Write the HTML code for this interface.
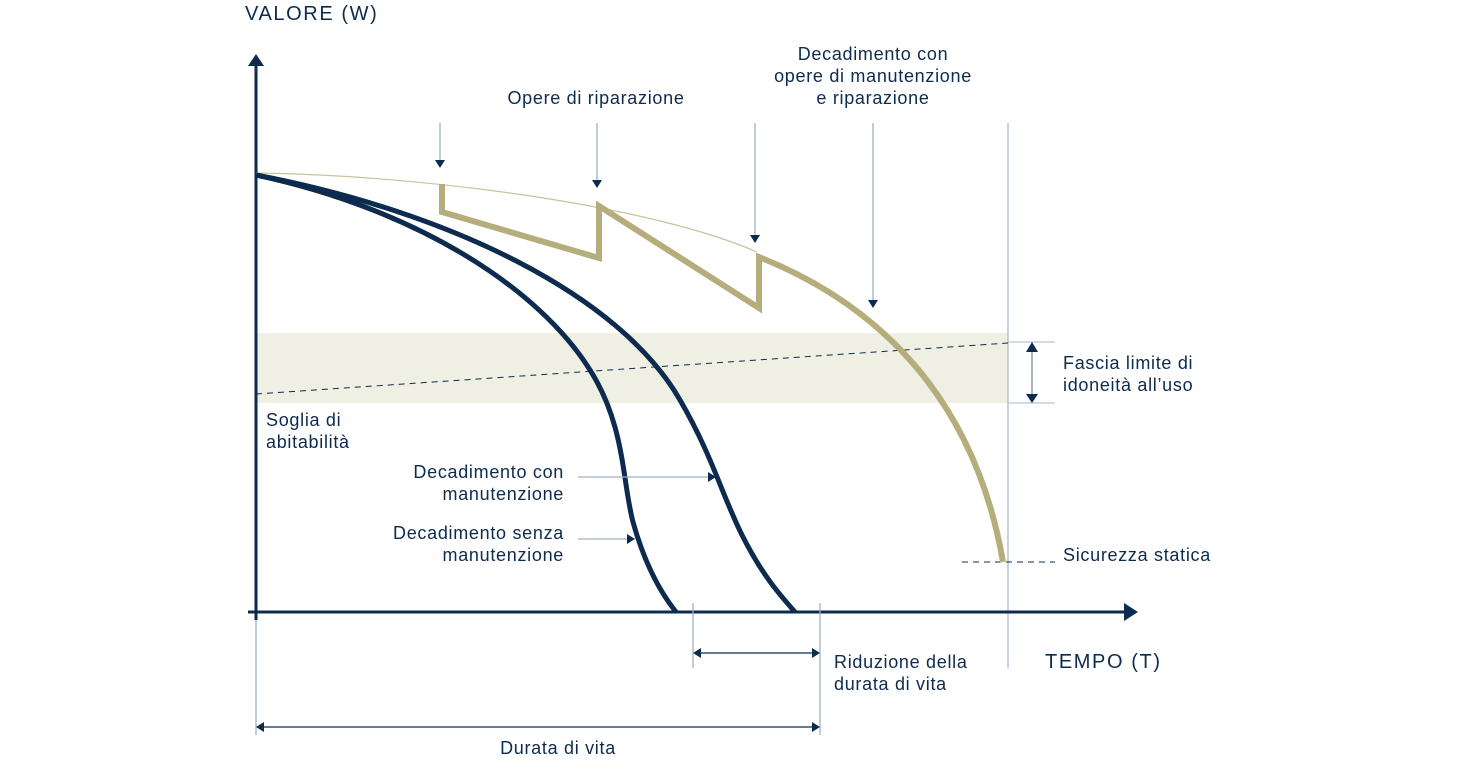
<!DOCTYPE html>
<html><head><meta charset="utf-8"><style>
html,body{margin:0;padding:0;background:#fff}
text{font-family:"Liberation Sans",sans-serif;fill:#0d2b4e;font-size:18px;letter-spacing:0.7px}
</style></head><body>
<svg width="1460" height="760" viewBox="0 0 1460 760" xmlns="http://www.w3.org/2000/svg">
<rect x="256" y="333" width="752" height="70" fill="#efefe4"/>
<line x1="1008" y1="123" x2="1008" y2="668" stroke="#b6c3d2" stroke-width="1.5"/>
<line x1="1008" y1="342" x2="1055" y2="342" stroke="#b6c3d2" stroke-width="1.2"/>
<line x1="1008" y1="403" x2="1055" y2="403" stroke="#b6c3d2" stroke-width="1.2"/>
<line x1="256" y1="394" x2="1008" y2="343" stroke="#0d2b4e" stroke-width="1" stroke-dasharray="6,5"/>
<line x1="962" y1="562" x2="1055" y2="562" stroke="#0d2b4e" stroke-width="1" stroke-dasharray="6,5"/>
<line x1="1032" y1="350" x2="1032" y2="396" stroke="#6d819a" stroke-width="1.2"/>
<path d="M1026,352 L1038,352 L1032,342 Z M1026,394 L1038,394 L1032,403 Z" fill="#0d2b4e"/>
<line x1="256" y1="62" x2="256" y2="620" stroke="#0d2b4e" stroke-width="3"/>
<path d="M248,66 L264,66 L256,54 Z" fill="#0d2b4e"/>
<line x1="248" y1="612" x2="1128" y2="612" stroke="#0d2b4e" stroke-width="3"/>
<path d="M1124,603 L1124,621 L1138,612 Z" fill="#0d2b4e"/>
<path d="M256,173 C420,175 650,205 757,252" fill="none" stroke="#c9c29a" stroke-width="1.2"/>
<path d="M442,184 L442,212 L599,258 L599,206 L759,308 L759,257 C880,305 975,400 1003,562" fill="none" stroke="#b5ad7c" stroke-width="6"/>
<path d="M256,175 C420,210 540,290 590,370 C625,425 622,480 633,522 C645,565 660,592 676,612" fill="none" stroke="#0d2b4e" stroke-width="5"/>
<path d="M256,175 C450,212 620,295 680,400 C712,455 722,495 742,535 C762,575 780,595 795,612" fill="none" stroke="#0d2b4e" stroke-width="5"/>
<g stroke="#9fb0c4" stroke-width="1.3">
<line x1="440" y1="123" x2="440" y2="160"/>
<line x1="597" y1="123" x2="597" y2="180"/>
<line x1="755" y1="123" x2="755" y2="235"/>
<line x1="873" y1="123" x2="873" y2="300"/>
<line x1="578" y1="477" x2="708" y2="477"/>
<line x1="578" y1="539" x2="627" y2="539"/>
<line x1="693" y1="603" x2="693" y2="668"/>
<line x1="820" y1="603" x2="820" y2="735"/>
<line x1="256" y1="620" x2="256" y2="735"/>
<line x1="700" y1="653" x2="813" y2="653" stroke="#0d2b4e"/>
<line x1="263" y1="727" x2="813" y2="727" stroke="#0d2b4e"/>
</g>
<g fill="#0d2b4e">
<path d="M435,160 L445,160 L440,168 Z"/>
<path d="M592,180 L602,180 L597,188 Z"/>
<path d="M750,235 L760,235 L755,243 Z"/>
<path d="M868,300 L878,300 L873,308 Z"/>
<path d="M708,472 L708,482 L716,477 Z"/>
<path d="M627,534 L627,544 L635,539 Z"/>
<path d="M701,648 L701,658 L693,653 Z"/>
<path d="M812,648 L812,658 L820,653 Z"/>
<path d="M264,722 L264,732 L256,727 Z"/>
<path d="M812,722 L812,732 L820,727 Z"/>
</g>
<text x="245" y="20" style="font-size:20px;letter-spacing:1.6px">VALORE (W)</text>
<text x="1045" y="668" style="font-size:20px;letter-spacing:1.6px">TEMPO (T)</text>
<text x="596" y="104" text-anchor="middle">Opere di riparazione</text>
<text x="873" y="60" text-anchor="middle">Decadimento con</text>
<text x="873" y="82" text-anchor="middle">opere di manutenzione</text>
<text x="873" y="104" text-anchor="middle">e riparazione</text>
<text x="1063" y="369">Fascia limite di</text>
<text x="1063" y="391">idoneità all’uso</text>
<text x="1063" y="561">Sicurezza statica</text>
<text x="266" y="426">Soglia di</text>
<text x="266" y="448">abitabilità</text>
<text x="564" y="478" text-anchor="end">Decadimento con</text>
<text x="564" y="500" text-anchor="end">manutenzione</text>
<text x="564" y="539" text-anchor="end">Decadimento senza</text>
<text x="564" y="561" text-anchor="end">manutenzione</text>
<text x="834" y="668">Riduzione della</text>
<text x="834" y="690">durata di vita</text>
<text x="558" y="754" text-anchor="middle">Durata di vita</text>
</svg>
</body></html>
